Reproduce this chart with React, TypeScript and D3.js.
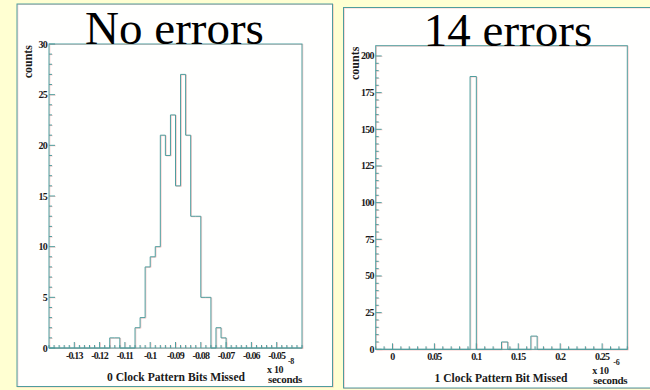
import React, { useEffect, useRef } from 'react';
import * as d3 from 'd3';

// Panel 1: "No errors" (x 10^-8 s), bins of 0.002
const noErrBinLow = [-0.116, -0.114, -0.106, -0.104, -0.102, -0.1, -0.098, -0.096, -0.094, -0.092,
  -0.09, -0.088, -0.086, -0.084, -0.082, -0.08, -0.078, -0.074, -0.072];
const noErrCounts = [1, 1, 2, 3, 8, 9, 10, 21, 19, 23, 16, 27, 21, 13, 13, 5, 5, 2, 1];
const noErrBinWidth = 0.002;
const noErrXTicks = [-0.13, -0.12, -0.11, -0.1, -0.09, -0.08, -0.07, -0.06, -0.05];
const noErrYTicks = [0, 5, 10, 15, 20, 25, 30];

// Panel 2: "14 errors" (x 10^-6 s), bins of 0.0075
const oneErrBinLow = [0.0925, 0.13, 0.165];
const oneErrCounts = [186, 5, 9];
const oneErrBinWidth = 0.0075;
const oneErrXTicks = [0, 0.05, 0.1, 0.15, 0.2, 0.25];
const oneErrYTicks = [0, 25, 50, 75, 100, 125, 150, 175, 200];

const TEAL = '#4f9d9d';
const PINK = '#f2a6a6';
const SERIF = '"Liberation Serif", "Times New Roman", serif';

const App = () => {
  const chartRef = useRef<SVGSVGElement>(null);

  useEffect(() => {
    const svg = d3.select(chartRef.current);
    svg.selectAll('*').remove();

    svg.append('rect').attr('width', 650).attr('height', 390).attr('fill', '#ffffd2');

    // lines drawn twice: faint pink ghost, then teal
    const ghostLine = (g: any, draw: (s: any) => void) => {
      draw(g.append('g').attr('transform', 'translate(0.8,0.5)')
        .attr('stroke', PINK).attr('stroke-opacity', 0.55));
      draw(g.append('g').attr('stroke', TEAL));
    };

    const drawPanel = (cfg: any) => {
      const g = svg.append('g');

      // panel box
      g.append('rect')
        .attr('x', cfg.box[0]).attr('y', cfg.box[1])
        .attr('width', cfg.box[2]).attr('height', cfg.box[3])
        .attr('fill', '#fffffe');
      ghostLine(g, (s) => s.append('rect')
        .attr('x', cfg.box[0]).attr('y', cfg.box[1])
        .attr('width', cfg.box[2]).attr('height', cfg.box[3])
        .attr('fill', 'none'));

      const x = d3.scaleLinear().domain(cfg.xDomain).range([cfg.left, cfg.right]);
      const y = d3.scaleLinear().domain(cfg.yDomain).range([cfg.bottom, cfg.top]);

      // histogram outline as a step path
      const pts: [number, number][] = [[cfg.xDomain[0], 0]];
      let prev = cfg.xDomain[0];
      cfg.binLow.forEach((lo: number, i: number) => {
        const hi = lo + cfg.binWidth;
        if (Math.abs(lo - prev) > 1e-9) {
          pts.push([prev, 0]);
          pts.push([lo, 0]);
        }
        pts.push([lo, cfg.counts[i]]);
        pts.push([hi, cfg.counts[i]]);
        prev = hi;
      });
      pts.push([prev, 0]);
      pts.push([cfg.xDomain[1], 0]);
      const line = d3.line<[number, number]>().x(d => x(d[0])).y(d => y(d[1]));

      ghostLine(g, (s) => {
        s.attr('fill', 'none').attr('stroke-width', 1);
        s.append('rect')
          .attr('x', cfg.left).attr('y', cfg.top)
          .attr('width', cfg.right - cfg.left).attr('height', cfg.bottom - cfg.top);
        s.append('path').attr('d', line(pts));
        // x ticks (inward)
        d3.range(cfg.xDomain[0], cfg.xDomain[1] + 1e-9, cfg.xMinor).forEach((v: number) => {
          const major = cfg.xTicks.some((t: number) => Math.abs(t - v) < 1e-9);
          s.append('line')
            .attr('x1', x(v)).attr('x2', x(v))
            .attr('y1', cfg.bottom).attr('y2', cfg.bottom - (major ? 6 : 3));
        });
        // y ticks (inward)
        d3.range(cfg.yDomain[0], cfg.yTicks[cfg.yTicks.length - 1] + 1e-9, cfg.yMinor).forEach((v: number) => {
          const major = cfg.yTicks.includes(v);
          s.append('line')
            .attr('x1', cfg.left).attr('x2', cfg.left + (major ? 6 : 3))
            .attr('y1', y(v)).attr('y2', y(v));
        });
      });

      const lab = g.append('g')
        .attr('font-family', SERIF).attr('font-weight', 'bold').attr('fill', '#1a1a1a');

      lab.selectAll('.xt').data(cfg.xTicks).enter().append('text')
        .attr('x', (d: number) => x(d)).attr('y', cfg.bottom + 11)
        .attr('text-anchor', 'middle').attr('font-size', 10).attr('letter-spacing', -0.8)
        .text((d: number) => String(+d.toFixed(2)));

      lab.selectAll('.yt').data(cfg.yTicks).enter().append('text')
        .attr('x', cfg.left - 2).attr('y', (d: number) => y(d) + 3.5)
        .attr('text-anchor', 'end').attr('font-size', 10).attr('letter-spacing', -0.8)
        .text((d: number) => d);

      lab.append('text')
        .attr('transform', `translate(${cfg.left - 17},${cfg.top + 1}) rotate(-90)`)
        .attr('text-anchor', 'end').attr('font-size', 12)
        .text('counts');

      lab.append('text')
        .attr('x', cfg.xTitleX).attr('y', cfg.bottom + 32.5)
        .attr('text-anchor', 'middle').attr('font-size', 13)
        .attr('textLength', cfg.xTitleLen).attr('lengthAdjust', 'spacingAndGlyphs')
        .text(cfg.xTitle);

      lab.append('text')
        .attr('x', cfg.right - 35).attr('y', cfg.bottom + 24.5)
        .attr('font-size', 10).attr('letter-spacing', -0.3)
        .text('x 10');
      lab.append('text')
        .attr('x', cfg.right - 14).attr('y', cfg.bottom + 15.5)
        .attr('font-size', 8).attr('letter-spacing', -0.3)
        .text(cfg.exponent);
      lab.append('text')
        .attr('x', cfg.right).attr('y', cfg.bottom + 35)
        .attr('text-anchor', 'end').attr('font-size', 11).attr('letter-spacing', -0.3)
        .text('seconds');

      g.append('text')
        .attr('x', cfg.titleX).attr('y', cfg.top)
        .attr('text-anchor', 'middle')
        .attr('font-family', SERIF).attr('font-size', 47).attr('fill', '#000')
        .text(cfg.title);
    };

    drawPanel({
      box: [17, 4, 315.5, 382.5],
      left: 49, right: 302, top: 44, bottom: 348,
      xDomain: [-0.14, -0.04], yDomain: [0, 30],
      xTicks: noErrXTicks, yTicks: noErrYTicks, xMinor: 0.002, yMinor: 1,
      binLow: noErrBinLow, counts: noErrCounts, binWidth: noErrBinWidth,
      title: 'No errors', titleX: 174.5,
      xTitle: '0 Clock Pattern Bits Missed', xTitleX: 176, xTitleLen: 138,
      exponent: '-8',
    });

    drawPanel({
      box: [343.5, 7.5, 320, 380.5],
      left: 375.7, right: 627.3, top: 45.7, bottom: 349.3,
      xDomain: [-0.02, 0.28], yDomain: [0, 207],
      xTicks: oneErrXTicks, yTicks: oneErrYTicks, xMinor: 0.01, yMinor: 5,
      binLow: oneErrBinLow, counts: oneErrCounts, binWidth: oneErrBinWidth,
      title: '14 errors', titleX: 508,
      xTitle: '1 Clock Pattern Bit Missed', xTitleX: 501, xTitleLen: 133,
      exponent: '-6',
    });
  }, []);

  return (
    <svg
      ref={chartRef}
      width={650}
      height={390}
      style={{ position: 'absolute', left: 0, top: 0, display: 'block' }}
    />
  );
};

export default App;
